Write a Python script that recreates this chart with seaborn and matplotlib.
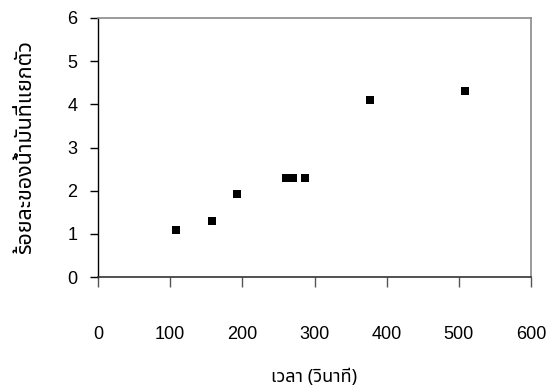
import matplotlib
matplotlib.use("Agg")
import matplotlib.pyplot as plt
import seaborn as sns
import pandas as pd
from matplotlib import font_manager
from matplotlib.ft2font import FT2Font

# ---- data ----
time_s = [108, 158, 192, 260, 270, 287, 377, 509]
oil_pct = [1.1, 1.3, 1.93, 2.3, 2.3, 2.3, 4.1, 4.3]
x_ticks = [0, 100, 200, 300, 400, 500, 600]
y_ticks = [0, 1, 2, 3, 4, 5, 6]
x_label = "เวลา (วินาที)"
y_label = "ร้อยละของน้ำมันที่แยกตัว"


def find_thai_font():
    found = []
    seen = set()
    for f in font_manager.fontManager.ttflist:
        if f.name in seen:
            continue
        try:
            cm = FT2Font(f.fname).get_charmap()
        except Exception:
            continue
        if 0x0E27 in cm and 0x0E32 in cm and 0x0E19 in cm:
            found.append(f.name)
            seen.add(f.name)
    prefs = ["Noto Sans Thai", "Noto Sans Thai UI", "Loma", "Garuda", "Tlwg Typo",
             "Waree", "Umpush", "Kinnari", "Norasi", "Sawasdee"]
    for p in prefs:
        if p in found:
            return p
    return found[0] if found else None


thai = find_thai_font()
sns.set_theme(style="white")
plt.rcParams["font.family"] = ["Liberation Sans", "DejaVu Sans"]
thai_fam = [thai, "Liberation Sans", "DejaVu Sans"] if thai else ["Liberation Sans", "DejaVu Sans"]

df = pd.DataFrame({"t": time_s, "p": oil_pct})

fig = plt.figure(figsize=(5.55, 3.87), dpi=100)
fig.patch.set_facecolor("white")

ax = fig.add_axes([98 / 555, 1 - 277 / 387, (531 - 98) / 555, (277 - 18) / 387])
ax.set_facecolor("white")

sns.scatterplot(data=df, x="t", y="p", marker="s", s=26, color="black",
                edgecolor="black", linewidth=0, ax=ax, zorder=3, clip_on=False)

ax.set_xlim(0, 600)
ax.set_ylim(0, 6)
ax.set_xticks(x_ticks)
ax.set_yticks(y_ticks)
ax.set_xticklabels([str(v) for v in x_ticks])
ax.set_yticklabels([str(v) for v in y_ticks])

for side in ["top", "right"]:
    ax.spines[side].set_color("#8a8a8a")
    ax.spines[side].set_linewidth(1.2)
ax.spines["left"].set_color("black")
ax.spines["left"].set_linewidth(1.0)
ax.spines["bottom"].set_color("#333333")
ax.spines["bottom"].set_linewidth(1.2)

ax.tick_params(axis="x", direction="out", length=7.5, width=1.0, color="#555555",
               pad=28, labelsize=13, labelcolor="black", bottom=True)
ax.tick_params(axis="y", direction="out", length=6, width=1.0, color="black",
               pad=9, labelsize=13, labelcolor="black", left=True)

ax.set_xlabel(x_label, fontsize=13, family=thai_fam, labelpad=18, color="black")
ax.set_ylabel(y_label, fontsize=15.5, family=thai_fam, labelpad=22, color="black")
ax.grid(False)

fig.savefig("out.png", dpi=100)
